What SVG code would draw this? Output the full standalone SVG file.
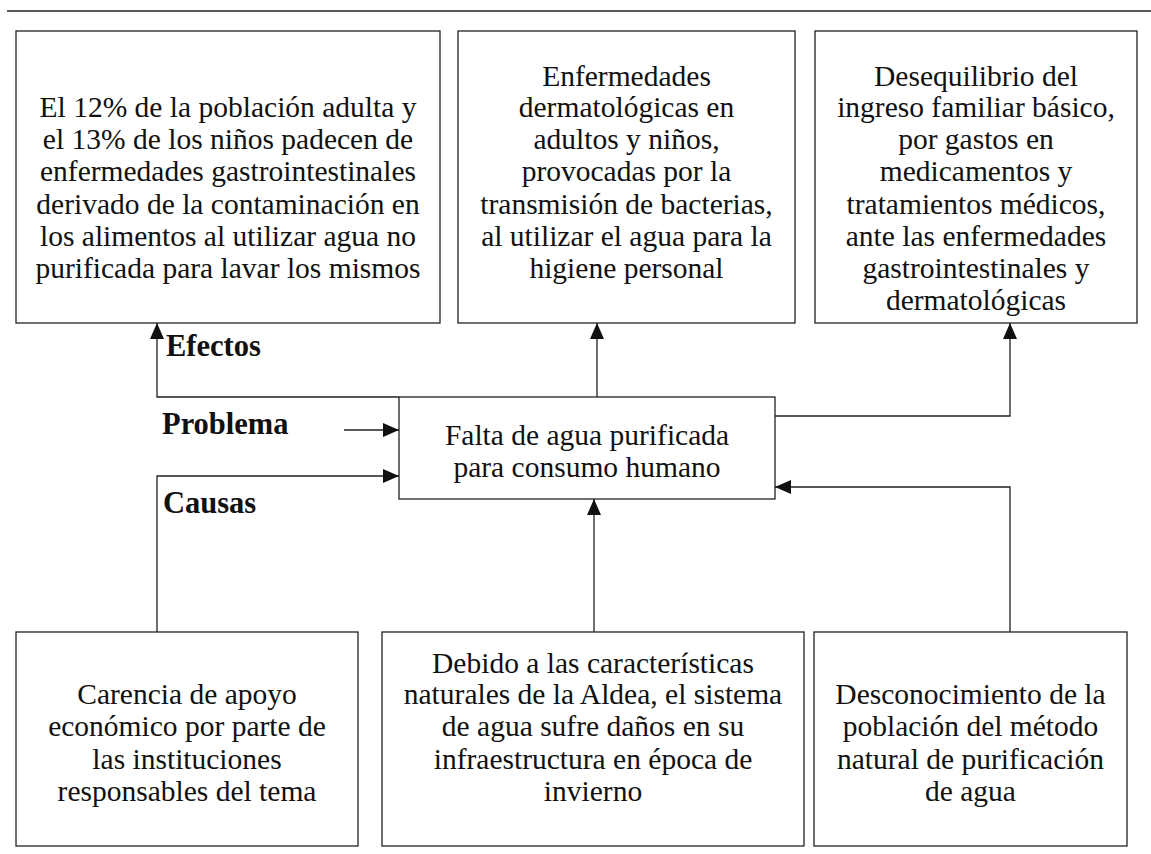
<svg xmlns="http://www.w3.org/2000/svg" width="1151" height="854" viewBox="0 0 1151 854">
<style>
.box{fill:#fff;stroke:#222;stroke-width:1.3}
.t{font-family:"Liberation Serif","Times New Roman",serif;font-size:29.5px;fill:#111;text-anchor:middle}
.lb{font-family:"Liberation Serif","Times New Roman",serif;font-size:30.5px;font-weight:bold;fill:#111}
.c{fill:none;stroke:#222;stroke-width:1.3}
</style>
<defs>
<marker id="ah" markerUnits="userSpaceOnUse" markerWidth="16" markerHeight="14" viewBox="0 0 16 14" refX="16" refY="7" orient="auto">
<path d="M0,0 L16,7 L0,14 Z" fill="#111"/>
</marker>
</defs>
<rect width="1151" height="854" fill="#fff"/>
<line x1="7" y1="11" x2="1151" y2="11" stroke="#222" stroke-width="1.3"/>
<g id="efecto1">
<rect class="box" x="16" y="31" width="424" height="292"/>
<text class="t"><tspan x="228" y="117">El 12% de la población adulta y</tspan><tspan x="228" y="149">el 13% de los niños padecen de</tspan><tspan x="228" y="181">enfermedades gastrointestinales</tspan><tspan x="228" y="214">derivado de la contaminación en</tspan><tspan x="228" y="246">los alimentos al utilizar agua no</tspan><tspan x="228" y="278">purificada para lavar los mismos</tspan></text>
</g>
<g id="efecto2">
<rect class="box" x="458" y="31" width="337" height="292"/>
<text class="t"><tspan x="626.5" y="86">Enfermedades</tspan><tspan x="626.5" y="117">dermatológicas en</tspan><tspan x="626.5" y="149">adultos y niños,</tspan><tspan x="626.5" y="181">provocadas por la</tspan><tspan x="626.5" y="214">transmisión de bacterias,</tspan><tspan x="626.5" y="246">al utilizar el agua para la</tspan><tspan x="626.5" y="278">higiene personal</tspan></text>
</g>
<g id="efecto3">
<rect class="box" x="815" y="31" width="322" height="292"/>
<text class="t"><tspan x="976" y="86">Desequilibrio del</tspan><tspan x="976" y="117">ingreso familiar básico,</tspan><tspan x="976" y="149">por gastos en</tspan><tspan x="976" y="181">medicamentos y</tspan><tspan x="976" y="214">tratamientos médicos,</tspan><tspan x="976" y="246">ante las enfermedades</tspan><tspan x="976" y="278">gastrointestinales y</tspan><tspan x="976" y="310">dermatológicas</tspan></text>
</g>
<g id="problema">
<rect class="box" x="399" y="397" width="376" height="102"/>
<text class="t"><tspan x="587" y="445">Falta de agua purificada</tspan><tspan x="587" y="477">para consumo humano</tspan></text>
</g>
<g id="causa1">
<rect class="box" x="16" y="632" width="342" height="214"/>
<text class="t"><tspan x="187" y="704">Carencia de apoyo</tspan><tspan x="187" y="736">económico por parte de</tspan><tspan x="187" y="769">las instituciones</tspan><tspan x="187" y="801">responsables del tema</tspan></text>
</g>
<g id="causa2">
<rect class="box" x="382" y="632" width="422" height="214"/>
<text class="t"><tspan x="593" y="673">Debido a las características</tspan><tspan x="593" y="704">naturales de la Aldea, el sistema</tspan><tspan x="593" y="736">de agua sufre daños en su</tspan><tspan x="593" y="769">infraestructura en época de</tspan><tspan x="593" y="801">invierno</tspan></text>
</g>
<g id="causa3">
<rect class="box" x="814" y="632" width="313" height="214"/>
<text class="t"><tspan x="970.5" y="704">Desconocimiento de la</tspan><tspan x="970.5" y="736">población del método</tspan><tspan x="970.5" y="769">natural de purificación</tspan><tspan x="970.5" y="801">de agua</tspan></text>
</g>
<g id="labels">
<text class="lb" x="166" y="356">Efectos</text>
<text class="lb" x="162" y="434">Problema</text>
<text class="lb" x="163" y="513">Causas</text>
</g>
<g id="connectors">
<path class="c" d="M399,397 H157 V323" marker-end="url(#ah)"/>
<path class="c" d="M597,397 V323" marker-end="url(#ah)"/>
<path class="c" d="M775,416 H1010 V323" marker-end="url(#ah)"/>
<path class="c" d="M344,430 H399" marker-end="url(#ah)"/>
<path class="c" d="M157,632 V476 H399" marker-end="url(#ah)"/>
<path class="c" d="M594,632 V499" marker-end="url(#ah)"/>
<path class="c" d="M1010,632 V487 H775" marker-end="url(#ah)"/>
</g>
</svg>
